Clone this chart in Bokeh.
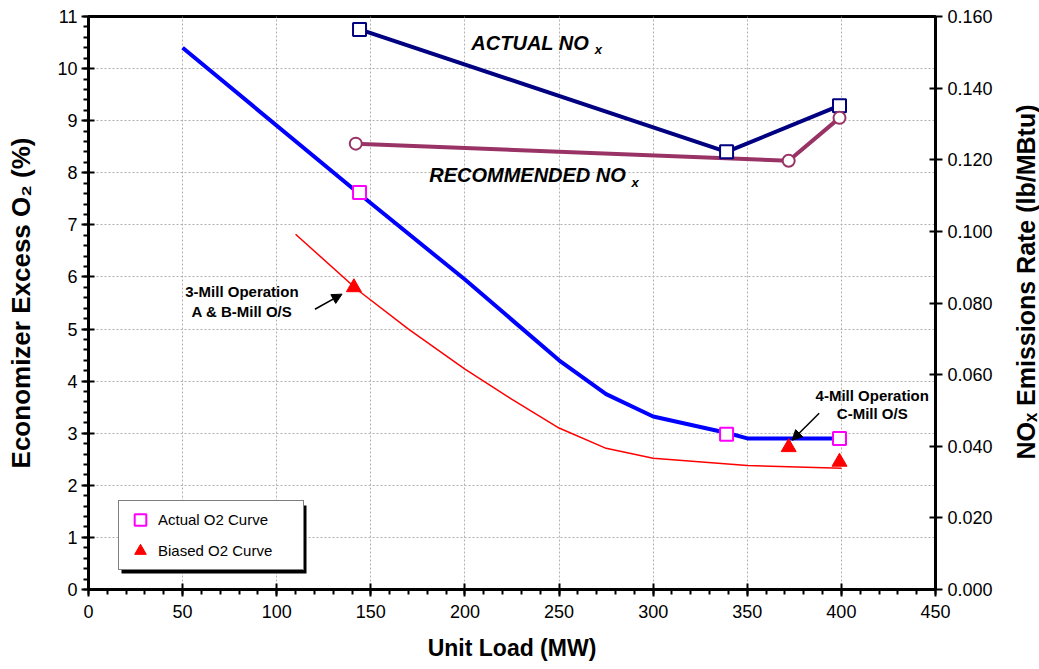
import math
from bokeh.plotting import figure
from bokeh.layouts import row
from bokeh.models import (Range1d, LinearAxis, SingleIntervalTicker, NumeralTickFormatter,
                          Legend, LegendItem, Label, Arrow, NormalHead, BoxAnnotation)
from bokeh.embed import file_html
from bokeh.resources import INLINE

# ---------------- data ----------------
actual_o2_curve_load = [50, 143, 200, 250, 275, 300, 340, 350, 400]
actual_o2_curve = [10.4, 7.62, 5.95, 4.4, 3.75, 3.32, 3.0, 2.9, 2.9]

biased_o2_curve_load = [110, 143, 170, 200, 225, 250, 275, 300, 350, 400]
biased_o2_curve = [6.82, 5.75, 5.0, 4.23, 3.65, 3.1, 2.71, 2.52, 2.38, 2.33]

actual_o2_pts_load = [144, 339, 399]
actual_o2_pts = [7.62, 2.98, 2.9]

biased_o2_pts_load = [141, 372, 399]
biased_o2_pts = [5.8, 2.73, 2.45]

actual_nox_load = [144, 339, 399]
actual_nox = [0.1564, 0.1222, 0.1351]

recommended_nox_load = [142, 372, 399]
recommended_nox = [0.1245, 0.1197, 0.1317]

FONT = "Liberation Sans"

p = figure(width=1010, height=669, output_backend="svg", toolbar_location=None,
           x_range=Range1d(0, 450), y_range=Range1d(0, 11),
           min_border_left=88, min_border_right=75, min_border_top=16, min_border_bottom=80)
p.extra_y_ranges = {"nox": Range1d(0, 0.16)}
p.background_fill_color = "white"
p.border_fill_color = "white"
p.outline_line_color = "black"
p.outline_line_width = 3

# axes
xax = p.xaxis[0]
xax.ticker = SingleIntervalTicker(interval=50, num_minor_ticks=5)
xax.axis_label = "Unit Load (MW)"
yax = p.yaxis[0]
yax.ticker = SingleIntervalTicker(interval=1, num_minor_ticks=5)
yax.axis_label = "Economizer Excess O\u2082 (%)"

rax = LinearAxis(y_range_name="nox", ticker=SingleIntervalTicker(interval=0.02, num_minor_ticks=0),
                 formatter=NumeralTickFormatter(format="0.000"))
p.add_layout(rax, "right")

for ax in (xax, yax, rax):
    ax.axis_line_width = 3
    ax.axis_line_color = "black"
    ax.major_tick_line_width = 2
    ax.major_tick_line_color = "black"
    ax.minor_tick_line_width = 2
    ax.minor_tick_line_color = "black"
    ax.major_tick_in = 6
    ax.major_tick_out = 7
    ax.minor_tick_in = 0
    ax.minor_tick_out = 5
    ax.major_label_text_font = FONT
    ax.major_label_text_font_size = "18px"
    ax.major_label_text_color = "black"
    ax.axis_label_text_font = FONT
    ax.axis_label_text_font_style = "bold"
    ax.axis_label_text_font_size = "23px"
    ax.axis_label_text_color = "black"
yax.axis_label_text_font_size = "26px"
rax.minor_tick_line_color = None
xax.major_label_standoff = 8
xax.axis_label_standoff = 14
yax.major_label_standoff = 4
yax.axis_label_standoff = 18
rax.major_label_standoff = 5

# grid
for g in (p.xgrid[0], p.ygrid[0]):
    g.grid_line_color = "#b0b0b0"
    g.grid_line_dash = "2 2"
    g.grid_line_width = 1
p.xgrid[0].ticker = xax.ticker
p.ygrid[0].ticker = yax.ticker

# lines
p.line(biased_o2_curve_load, biased_o2_curve, line_color="#ff0000", line_width=1.5)
p.line(actual_o2_curve_load, actual_o2_curve, line_color="#0000ff", line_width=4)
p.line(actual_nox_load, actual_nox, y_range_name="nox", line_color="#000080", line_width=4)
p.line(recommended_nox_load, recommended_nox, y_range_name="nox", line_color="#993366", line_width=4)

# markers
r_act = p.scatter(actual_o2_pts_load, actual_o2_pts, marker="square", size=13,
                  fill_color="white", line_color="#ff00ff", line_width=2)
r_bias = p.scatter(biased_o2_pts_load, biased_o2_pts, marker="triangle", size=15,
                   fill_color="#ff0000", line_color="#ff0000")
p.scatter(actual_nox_load, actual_nox, y_range_name="nox", marker="square", size=13,
          fill_color="white", line_color="#000080", line_width=2)
p.scatter(recommended_nox_load, recommended_nox, y_range_name="nox", marker="circle", size=12,
          fill_color="white", line_color="#993366", line_width=2)

# annotations
def lab(fig, x, y, text, size, style, align="left", angle=0.0):
    fig.add_layout(Label(x=x, y=y, text=text, text_font=FONT, text_font_size=size,
                         text_font_style=style, text_align=align, text_baseline="middle",
                         text_color="black", angle=angle))

lab(p, 203.4, 10.5, "ACTUAL NO", "20px", "bold italic")
lab(p, 269.0, 10.37, "x", "13px", "bold italic")
lab(p, 181.0, 7.96, "RECOMMENDED NO", "20px", "bold italic")
lab(p, 288.5, 7.81, "x", "13px", "bold italic")

lab(p, 81.5, 5.73, "3-Mill Operation", "15px", "bold", "center")
lab(p, 81.5, 5.33, "A & B-Mill O/S", "15px", "bold", "center")
lab(p, 416.4, 3.73, "4-Mill Operation", "15px", "bold", "center")
lab(p, 416.4, 3.37, "C-Mill O/S", "15px", "bold", "center")

p.add_layout(Arrow(end=NormalHead(size=10, fill_color="black", line_color="black"),
                   x_start=120.3, y_start=5.38, x_end=134.7, y_end=5.67,
                   line_color="black", line_width=1.5))
p.add_layout(Arrow(end=NormalHead(size=10, fill_color="black", line_color="black"),
                   x_start=388.2, y_start=3.385, x_end=373.8, y_end=2.865,
                   line_color="black", line_width=1.5))

# legend shadow + legend
shadow = BoxAnnotation(left=121, right=306, top=505, bottom=573,
                       left_units="canvas", right_units="canvas",
                       top_units="canvas", bottom_units="canvas",
                       fill_color="black", fill_alpha=1, line_color=None)
p.add_layout(shadow)

legend = Legend(items=[LegendItem(label="Actual O2 Curve", renderers=[r_act]),
                       LegendItem(label="Biased O2 Curve", renderers=[r_bias])],
                location=(30, 19), padding=4, spacing=2, margin=0,
                glyph_width=34, glyph_height=29, label_standoff=1, label_width=141,
                label_text_font=FONT, label_text_font_size="15px", label_text_color="black",
                border_line_color="black", border_line_width=1.5,
                background_fill_color="white", background_fill_alpha=1)
p.add_layout(legend, "center")

# narrow side strip carrying the right-axis title (reads bottom to top)
side = figure(width=29, height=669, output_backend="svg", toolbar_location=None,
              x_range=Range1d(0, 29), y_range=Range1d(0, 669),
              min_border=0, min_border_left=0, min_border_right=0,
              min_border_top=0, min_border_bottom=0)
side.axis.visible = False
side.grid.visible = False
side.outline_line_color = None
side.background_fill_color = "white"
side.border_fill_color = "white"
lab(side, 15, 359, "NO\u2093 Emissions Rate (lb/MBtu)", "25px", "bold", "center", math.pi / 2)

layout = row(p, side, spacing=0)
open("out.html", "w").write(file_html(layout, INLINE))
